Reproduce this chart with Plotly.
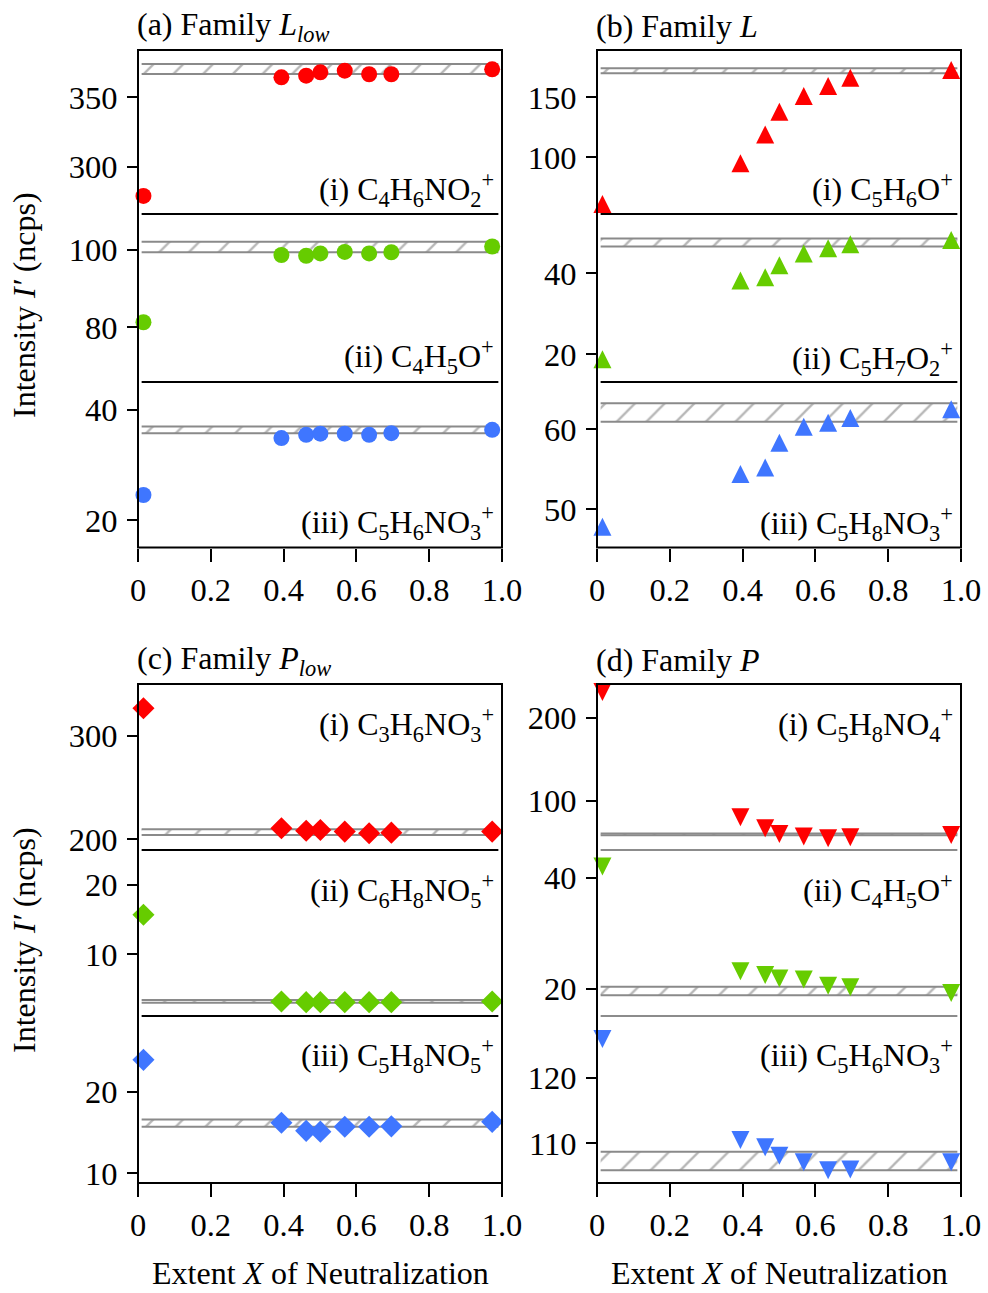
import plotly.graph_objects as go

# ---------------- data ----------------
X = [0.015, 0.394, 0.462, 0.501, 0.568, 0.635, 0.696, 0.973]

a_i = [278.9, 364.4, 365.6, 368.0, 369.2, 366.6, 366.6, 370.2]
a_ii = [81.3, 98.7, 98.5, 99.1, 99.5, 99.1, 99.4, 100.9]
a_iii = [24.6, 34.9, 35.5, 35.7, 35.7, 35.5, 35.8, 36.4]

b_i = [61.0, 95.0, 119.0, 138.0, 151.0, 159.4, 166.3, 172.7]
b_ii = [18.8, 38.2, 39.0, 42.0, 44.9, 46.2, 47.2, 48.2]
b_iii = [47.8, 54.4, 55.2, 58.3, 60.3, 60.8, 61.4, 62.5]

c_i = [326.8, 210.6, 208.3, 209.0, 207.4, 205.8, 206.4, 207.4]
c_ii = [15.7, 3.2, 3.1, 3.1, 3.1, 3.1, 3.1, 3.2]
c_iii = [23.9, 16.2, 15.2, 15.1, 15.7, 15.7, 15.75, 16.3]

d_i = [231.0, 80.0, 66.7, 60.0, 56.8, 54.8, 56.0, 58.8]
d_ii = [42.0, 23.2, 22.5, 21.9, 21.7, 20.6, 20.3, 19.3]
d_iii = [125.9, 110.5, 109.4, 108.1, 107.1, 105.9, 106.0, 107.1]

# reference bands (low, high)
a_bands = [(366.8, 374.0), (99.4, 102.1), (35.8, 37.0)]
b_bands = [(170.0, 174.2), (46.6, 48.6), (60.95, 63.25)]
c_bands = [(204.2, 209.7), (3.0, 3.4), (15.7, 16.6)]
d_bands = [(58.3, 60.5), (18.9, 20.4), (105.9, 108.7)]

# y ranges and ticks
a_ranges = [(265.9, 384.1), (65.85, 109.3), (15.1, 45.06)]
b_ranges = [(52.75, 189.4), (13.16, 54.64), (45.2, 65.91)]
c_ranges = [(189.6, 350.3), (1.1, 25.05), (8.81, 29.27)]
d_ranges = [(40.6, 240.6), (15.15, 44.98), (103.95, 129.4)]

a_ticks = [[300, 350], [80, 100], [20, 40]]
b_ticks = [[100, 150], [20, 40], [50, 60]]
c_ticks = [[200, 300], [10, 20], [10, 20]]
d_ticks = [[100, 200], [20, 40], [110, 120]]

x_tickvals = [0, 0.2, 0.4, 0.6, 0.8, 1.0]
x_ticktext = ["0", "0.2", "0.4", "0.6", "0.8", "1.0"]

a_labels = ["(i) C<sub>4</sub>H<sub>6</sub>NO<sub>2</sub><sup>+</sup>",
            "(ii) C<sub>4</sub>H<sub>5</sub>O<sup>+</sup>",
            "(iii) C<sub>5</sub>H<sub>6</sub>NO<sub>3</sub><sup>+</sup>"]
b_labels = ["(i) C<sub>5</sub>H<sub>6</sub>O<sup>+</sup>",
            "(ii) C<sub>5</sub>H<sub>7</sub>O<sub>2</sub><sup>+</sup>",
            "(iii) C<sub>5</sub>H<sub>8</sub>NO<sub>3</sub><sup>+</sup>"]
c_labels = ["(i) C<sub>3</sub>H<sub>6</sub>NO<sub>3</sub><sup>+</sup>",
            "(ii) C<sub>6</sub>H<sub>8</sub>NO<sub>5</sub><sup>+</sup>",
            "(iii) C<sub>5</sub>H<sub>8</sub>NO<sub>5</sub><sup>+</sup>"]
d_labels = ["(i) C<sub>5</sub>H<sub>8</sub>NO<sub>4</sub><sup>+</sup>",
            "(ii) C<sub>4</sub>H<sub>5</sub>O<sup>+</sup>",
            "(iii) C<sub>5</sub>H<sub>6</sub>NO<sub>3</sub><sup>+</sup>"]

titles = ["(a) Family <i>L</i><sub><i>low</i></sub>", "(b) Family <i>L</i>",
          "(c) Family <i>P</i><sub><i>low</i></sub>", "(d) Family <i>P</i>"]
y_title = "Intensity <i>I′</i> (ncps)"
x_title = "Extent <i>X</i> of Neutralization"

# ---------------- layout constants ----------------
W, H = 988, 1293
FONT = "Liberation Serif"
FS_TICK = 32.5
FS_TXT = 32
colors = ["#FF0000", "#66CC00", "#3F76FF"]

panels = [
    dict(data=[a_i, a_ii, a_iii], bands=a_bands, ranges=a_ranges, ticks=a_ticks,
         labels=a_labels, col=(138, 502), rows=(50, 214, 382, 547.5), sym="circle",
         sep="black", lab_y=[189, 357, 522]),
    dict(data=[b_i, b_ii, b_iii], bands=b_bands, ranges=b_ranges, ticks=b_ticks,
         labels=b_labels, col=(597, 961), rows=(50, 214, 382, 547.5), sym="tri_up",
         sep="black", lab_y=[190, 358, 523]),
    dict(data=[c_i, c_ii, c_iii], bands=c_bands, ranges=c_ranges, ticks=c_ticks,
         labels=c_labels, col=(138, 502), rows=(684, 850, 1016, 1183), sym="diamond",
         sep="black", lab_y=[724, 890, 1055]),
    dict(data=[d_i, d_ii, d_iii], bands=d_bands, ranges=d_ranges, ticks=d_ticks,
         labels=d_labels, col=(597, 961), rows=(684, 850, 1016, 1183), sym="tri_down",
         sep="#8c8c8c", lab_y=[724, 890, 1055]),
]


def px2x(px):
    return px / W


def py2y(py):
    return 1 - py / H


fig = go.Figure()
layout = dict(width=W, height=H, autosize=False,
              margin=dict(l=0, r=0, t=0, b=0, pad=0, autoexpand=False),
              paper_bgcolor="white", plot_bgcolor="white", showlegend=False,
              font=dict(family=FONT, size=FS_TXT, color="black"))
shapes = []
annotations = []

for p, P in enumerate(panels):
    xname = "x" if p == 0 else f"x{p+1}"
    xkey = "xaxis" if p == 0 else f"xaxis{p+1}"
    x0, x1 = P["col"]
    rows = P["rows"]
    bottom_y = 3 * p + 3
    layout[xkey] = dict(domain=[px2x(x0), px2x(x1)], range=[0, 1], automargin=False,
                        anchor=f"y{bottom_y}", showgrid=False, zeroline=False,
                        showline=False, ticks="outside", ticklen=13, tickwidth=2,
                        tickcolor="black", tickvals=x_tickvals, ticktext=x_ticktext,
                        ticklabelstandoff=0,
                        tickfont=dict(family=FONT, size=FS_TICK))
    for s in range(3):
        yi = 3 * p + s + 1
        yname = "y" if yi == 1 else f"y{yi}"
        ykey = "yaxis" if yi == 1 else f"yaxis{yi}"
        top, bot = rows[s], rows[s + 1]
        layout[ykey] = dict(domain=[py2y(bot), py2y(top)], range=list(P["ranges"][s]),
                            anchor=xname, showgrid=False, zeroline=False, showline=False,
                            automargin=False, ticks="outside", ticklen=10, tickwidth=2,
                            tickcolor="black", tickvals=P["ticks"][s],
                            ticklabelstandoff=3,
                            tickfont=dict(family=FONT, size=FS_TICK))
        lo, hi = P["bands"][s]
        fig.add_trace(go.Scatter(x=[0.01, 0.99], y=[lo, lo], mode="lines",
                                 line=dict(color="#8a8a8a", width=2),
                                 xaxis=xname, yaxis=yname, hoverinfo="skip"))
        fig.add_trace(go.Scatter(x=[0.01, 0.99], y=[hi, hi], mode="lines",
                                 line=dict(color="#8a8a8a", width=2),
                                 fill="tonexty", fillcolor="rgba(0,0,0,0)",
                                 fillpattern=dict(shape="/", fgcolor="#6e6e6e",
                                                  bgcolor="rgba(0,0,0,0)", size=21,
                                                  solidity=0.11),
                                 xaxis=xname, yaxis=yname, hoverinfo="skip"))
        sym = P["sym"]
        if sym == "tri_up":
            marker = dict(symbol="arrow-down", size=18, angle=180, standoff=9,
                          color=colors[s], line=dict(width=0))
        elif sym == "tri_down":
            marker = dict(symbol="arrow-down", size=18, angle=0, standoff=9,
                          color=colors[s], line=dict(width=0))
        elif sym == "diamond":
            marker = dict(symbol="diamond", size=17, color=colors[s], line=dict(width=0))
        else:
            marker = dict(symbol="circle", size=16, color=colors[s], line=dict(width=0))
        fig.add_trace(go.Scatter(x=X, y=P["data"][s], mode="markers", marker=marker,
                                 cliponaxis=False, xaxis=xname, yaxis=yname))
        # separators
        if s > 0:
            shapes.append(dict(type="line", xref=xname, yref="paper", x0=0.01, x1=0.99,
                               y0=py2y(top), y1=py2y(top),
                               line=dict(color=P["sep"], width=2)))
        annotations.append(dict(text=P["labels"][s], xref="paper", yref="paper",
                                x=px2x(x1 - 6), y=py2y(P["lab_y"][s]), xanchor="right",
                                yanchor="middle", showarrow=False,
                                font=dict(family=FONT, size=FS_TXT)))
    # frame
    shapes.append(dict(type="rect", xref="paper", yref="paper", x0=px2x(x0), x1=px2x(x1),
                       y0=py2y(rows[3]), y1=py2y(rows[0]), line=dict(color="black", width=2),
                       fillcolor="rgba(0,0,0,0)"))
    # panel title
    annotations.append(dict(text=titles[p], xref="paper", yref="paper", x=px2x(x0 - 3),
                            y=py2y(rows[0] - 24), xanchor="left", yanchor="middle",
                            showarrow=False, font=dict(family=FONT, size=FS_TXT)))

# y titles
for yc in (305, 940):
    annotations.append(dict(text=y_title, xref="paper", yref="paper", x=px2x(24),
                            y=py2y(yc), xanchor="center", yanchor="middle", textangle=-90,
                            showarrow=False, font=dict(family=FONT, size=FS_TXT)))
# x titles
for xc in (320, 779):
    annotations.append(dict(text=x_title, xref="paper", yref="paper", x=px2x(xc),
                            y=py2y(1293), xanchor="center", yanchor="bottom",
                            showarrow=False, font=dict(family=FONT, size=FS_TXT)))

layout["shapes"] = shapes
layout["annotations"] = annotations
fig.update_layout(**layout)
fig.write_html("out.html")
